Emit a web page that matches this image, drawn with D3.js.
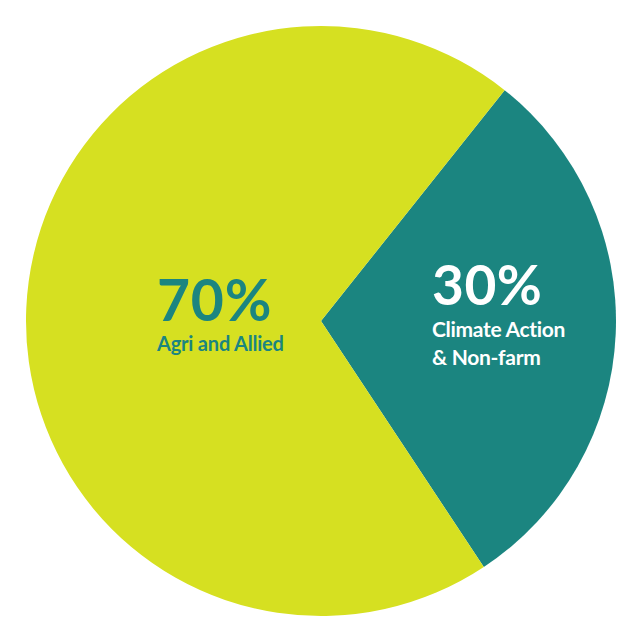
<!DOCTYPE html>
<html><head><meta charset="utf-8">
<script src="https://cdn.jsdelivr.net/npm/d3@7"></script>
<style>html,body{margin:0;padding:0;background:#fff;}</style>
</head><body>
<svg id="chart" width="642" height="642"></svg>
<script>
const categories = ["Climate Action & Non-farm", "Agri and Allied"];
const values = [30, 70];
const pctLabels = ["30%", "70%"];
const colors = ["#1b8580", "#d6e021"];

const svg = d3.select("#chart");
const cx = 321, cy = 321, R = 295;
const g = svg.append("g").attr("transform", `translate(${cx},${cy})`);

const startDeg = 38.5;
const pie = d3.pie().sort(null).value(d => d)
  .startAngle(startDeg * Math.PI / 180)
  .endAngle(startDeg * Math.PI / 180 + 2 * Math.PI);
const arcs = pie(values);
const arc = d3.arc().innerRadius(0).outerRadius(R);

g.selectAll("path").data(arcs).enter().append("path")
  .attr("d", arc).attr("fill", (d, i) => colors[i]);

const font = "Lato, 'Open Sans', sans-serif";
// 30% slice label (white)
const t1 = svg.append("g").attr("fill", "#ffffff").style("font-family", font).attr("font-weight", 700);
t1.append("text").attr("x", 432).attr("y", 305).attr("font-size", 55)
  .attr("letter-spacing", 0.5).text(pctLabels[0]);
t1.append("text").attr("x", 432).attr("y", 337).attr("font-size", 21)
  .attr("letter-spacing", -0.3).text("Climate Action");
t1.append("text").attr("x", 432).attr("y", 365).attr("font-size", 21)
  .attr("letter-spacing", -0.3).text("& Non-farm");

// 70% slice label (teal)
const t2 = svg.append("g").attr("fill", colors[0]).style("font-family", font).attr("font-weight", 700);
t2.append("text").attr("x", 157).attr("y", 321).attr("font-size", 57)
  .attr("letter-spacing", 0.8).text(pctLabels[1]);
t2.append("text").attr("x", 157).attr("y", 351).attr("font-size", 20)
  .attr("letter-spacing", -0.2).text(categories[1]);
</script>
</body></html>
